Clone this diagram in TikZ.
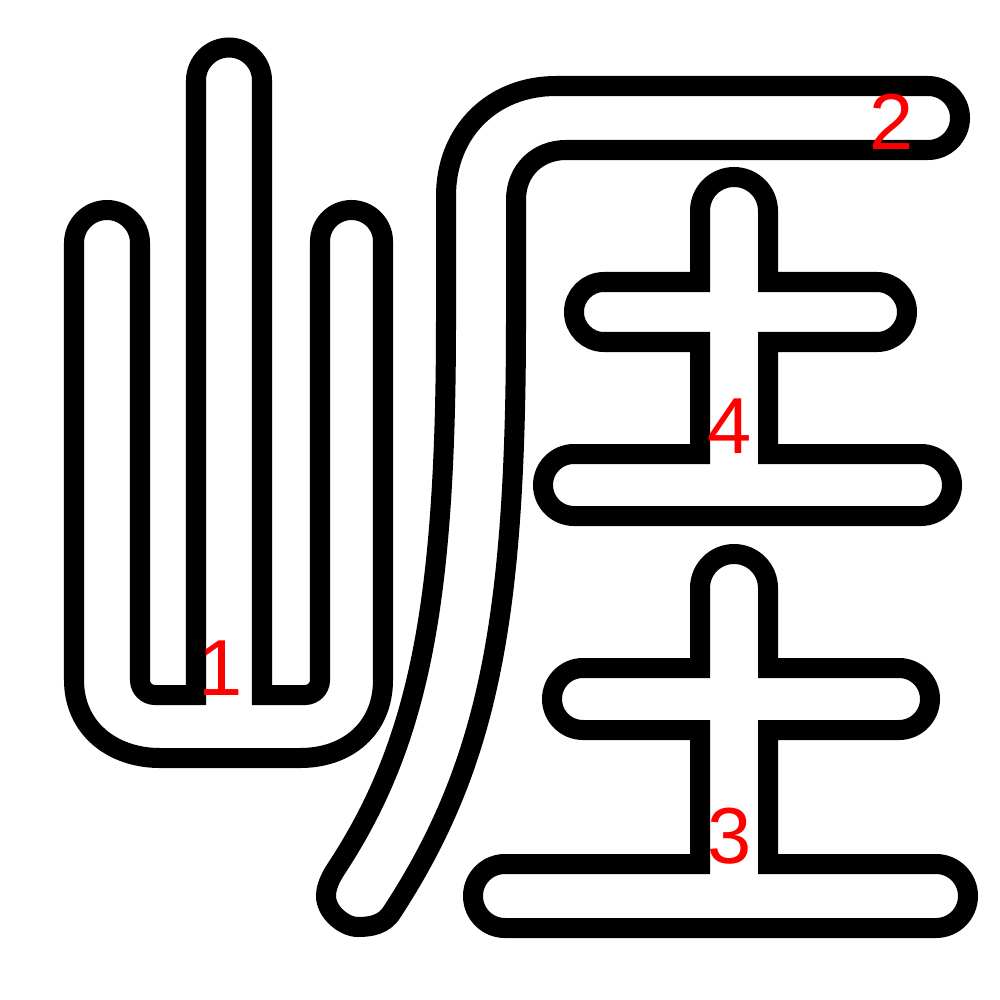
\documentclass[tikz,border=0pt]{standalone}
\usepackage{fontspec}
\setmainfont{Liberation Sans}
\begin{document}
\begin{tikzpicture}[x=0.01cm,y=-0.01cm,
  strokeline/.style={draw=black,line width=0.2cm,line join=miter},
  numlabel/.style={text=red,inner sep=0pt,font=\fontsize{22.6}{27}\selectfont}]
\fill[white] (0,0) rectangle (1000,1000);
\useasboundingbox (0,0) rectangle (1000,1000);
% component 1
\draw[strokeline] (196,695) -- (196,80.5)
  .. controls (196,62.3) and (210.8,47.5) .. (229,47.5)
  .. controls (247.2,47.5) and (262,62.3) .. (262,80.5)
  -- (262,695) -- (305,695)
  .. controls (313.3,695) and (320,688.3) .. (320,680)
  -- (320,241.5)
  .. controls (320,224.1) and (334.1,210) .. (351.5,210)
  .. controls (368.9,210) and (383,224.1) .. (383,241.5)
  -- (383,680)
  .. controls (383,728) and (348,758) .. (300,758)
  -- (160,758)
  .. controls (112,758) and (74,728) .. (74,680)
  -- (74,243)
  .. controls (74,224.8) and (88.8,210) .. (107,210)
  .. controls (125.2,210) and (140,224.8) .. (140,243)
  -- (140,680)
  .. controls (140,688.3) and (146.7,695) .. (155,695)
  -- cycle;
% component 2
\draw[strokeline] (556,86) -- (928,86)
  .. controls (945.7,86) and (960,100.3) .. (960,118)
  .. controls (960,135.7) and (945.7,150) .. (928,150)
  -- (566,150)
  .. controls (538,150) and (516,170) .. (516,200)
  -- (516,320)
  .. controls (516,620) and (488,765) .. (392,912)
  .. controls (384,925) and (370,927) .. (358,927)
  .. controls (344,927) and (326,912) .. (326,896)
  .. controls (326,884) and (333.6,872.7) .. (338,866)
  .. controls (420,740) and (446,600) .. (446,320)
  -- (446,196)
  .. controls (446,132) and (492,86) .. (556,86)
  -- cycle;
% component 4
\draw[strokeline] (700,282) -- (700,211)
  .. controls (700,192.2) and (715.2,177) .. (734,177)
  .. controls (752.8,177) and (768,192.2) .. (768,211)
  -- (768,282) -- (877,282)
  .. controls (893.6,282) and (907,295.4) .. (907,312)
  .. controls (907,328.6) and (893.6,342) .. (877,342)
  -- (768,342) -- (768,454) -- (921,454)
  .. controls (938.1,454) and (952,467.9) .. (952,485)
  .. controls (952,502.1) and (938.1,516) .. (921,516)
  -- (574,516)
  .. controls (556.9,516) and (543,502.1) .. (543,485)
  .. controls (543,467.9) and (556.9,454) .. (574,454)
  -- (700,454) -- (700,342) -- (604,342)
  .. controls (587.4,342) and (574,328.6) .. (574,312)
  .. controls (574,295.4) and (587.4,282) .. (604,282)
  -- cycle;
% component 3
\draw[strokeline] (700,668) -- (700,588)
  .. controls (700,569.2) and (715.2,554) .. (734,554)
  .. controls (752.8,554) and (768,569.2) .. (768,588)
  -- (768,668) -- (899,668)
  .. controls (916.1,668) and (930,681.9) .. (930,699)
  .. controls (930,716.1) and (916.1,730) .. (899,730)
  -- (768,730) -- (768,864) -- (936,864)
  .. controls (953.7,864) and (968,878.3) .. (968,896)
  .. controls (968,913.7) and (953.7,928) .. (936,928)
  -- (505,928)
  .. controls (487.3,928) and (473,913.7) .. (473,896)
  .. controls (473,878.3) and (487.3,864) .. (505,864)
  -- (700,864) -- (700,730) -- (583,730)
  .. controls (565.9,730) and (552,716.1) .. (552,699)
  .. controls (552,681.9) and (565.9,668) .. (583,668)
  -- cycle;
% labels
\node[numlabel] (l1) at (221,668) {1};
\node[numlabel] (l2) at (892,122) {2};
\node[numlabel] (l3) at (730,836) {3};
\node[numlabel] (l4) at (730,426) {4};
\end{tikzpicture}
\end{document}
